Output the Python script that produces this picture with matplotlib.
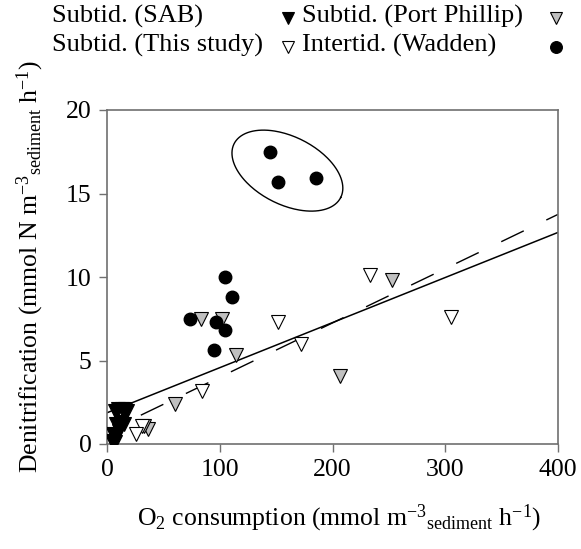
import numpy as np
import matplotlib
matplotlib.use('Agg')
import matplotlib.pyplot as plt
from matplotlib.lines import Line2D

plt.rcParams['font.family'] = ['Liberation Serif', 'DejaVu Serif']
plt.rcParams['mathtext.fontset'] = 'custom'
plt.rcParams['mathtext.rm'] = 'Liberation Serif'
plt.rcParams['mathtext.it'] = 'Liberation Serif:italic'

# Subtid. (SAB)
sab_x = [7, 10, 13, 16, 18, 8, 12, 15, 5, 8, 11, 4, 7]
sab_y = [2.0, 2.1, 2.1, 2.1, 2.0, 1.2, 1.3, 1.2, 0.6, 0.5, 0.8, 0.2, 0.1]
# Subtid. (Port Phillip)
pp_x = [83, 102, 114, 207, 253, 60, 36, 33]
pp_y = [7.5, 7.5, 5.3, 4.1, 9.8, 2.4, 0.9, 1.1]
# Subtid. (This study)
ts_x = [233, 305, 152, 172, 84, 31, 26]
ts_y = [10.1, 7.6, 7.3, 6.0, 3.2, 1.1, 0.6]
# Intertid. (Wadden)
wad_x = [145, 152, 185, 105, 111, 74, 97, 105, 95]
wad_y = [17.5, 15.7, 15.9, 10.0, 8.8, 7.5, 7.3, 6.8, 5.6]

# regression lines (intercept, slope)
solid_fit = (1.87, 0.0270)
dash_fit = (0.75, 0.0325)

fig = plt.figure(figsize=(5.81, 5.49), dpi=100)
ax = fig.add_axes([107/581, 1-444/549, 451/581, 334/549])

xs = np.array([0, 400])
ax.plot(xs, solid_fit[0] + solid_fit[1]*xs, color='black', lw=1.1, zorder=2)
xd = np.array([30, 400])
ax.plot(xd, dash_fit[0] + dash_fit[1]*xd, color='black', lw=1.0, dashes=(18, 18), zorder=2)

ax.plot(sab_x, sab_y, 'v', ms=10, mfc='black', mec='black', mew=0.8, ls='none', zorder=3)
ax.plot(pp_x, pp_y, 'v', ms=10, mfc='#c0c0c0', mec='black', mew=0.8, ls='none', zorder=3)
ax.plot(ts_x, ts_y, 'v', ms=10, mfc='white', mec='black', mew=0.8, ls='none', zorder=3)
ax.plot(wad_x, wad_y, 'o', ms=9, mfc='black', mec='black', ls='none', zorder=4)

# ellipse around the three high Wadden points (drawn in pixel space)
t = np.linspace(0, 2*np.pi, 200)
th = np.deg2rad(26.8)
a, b = 59.7, 33.9
px = a*np.cos(th)*np.cos(t) - b*np.sin(th)*np.sin(t)
py = a*np.sin(th)*np.cos(t) + b*np.cos(th)*np.sin(t)
ax.plot(160 + px/1.1275, 16.37 - py/16.7, color='black', lw=1.0)

ax.set_xlim(0, 400)
ax.set_ylim(0, 20)
ax.set_xticks([0, 100, 200, 300, 400])
ax.set_yticks([0, 5, 10, 15, 20])
for s in ax.spines.values():
    s.set_color('#707070')
    s.set_linewidth(1.2)
ax.tick_params(direction='out', length=6, width=1, color='#707070', labelsize=18.5, pad=5)

ax.set_xlabel(r'O$_2$ consumption (mmol m$^{-3}$$_{\rm sediment}$ h$^{-1}$)', fontsize=18.5)
ax.set_ylabel(r'Denitrification (mmol N m$^{-3}$$_{\rm sediment}$ h$^{-1}$)', fontsize=18.5)
ax.xaxis.set_label_coords(0.515, -0.175)
ax.yaxis.set_label_coords(-0.135, 0.53)

# legend, text first then marker
labels = ['Subtid. (SAB)', 'Subtid. (Port Phillip)', 'Subtid. (This study)', 'Intertid. (Wadden)']
text_x = [52, 302, 52, 302]
mark_x = [288, 556, 288, 556]
row_y = [16, 16, 45, 45]
styles = [dict(marker='v', mfc='black', mec='black'),
          dict(marker='v', mfc='#c0c0c0', mec='black'),
          dict(marker='v', mfc='white', mec='black'),
          dict(marker='o', mfc='black', mec='black')]
for lab, tx, mx, ry, st in zip(labels, text_x, mark_x, row_y, styles):
    fig.text(tx/581, 1-ry/549, lab, fontsize=19, va='center', ha='left')
    fig.add_artist(Line2D([mx/581], [1-(ry+2)/549], transform=fig.transFigure,
                          ms=8.5, mew=0.8, ls='none', **st))

fig.savefig('out.png', dpi=100)
